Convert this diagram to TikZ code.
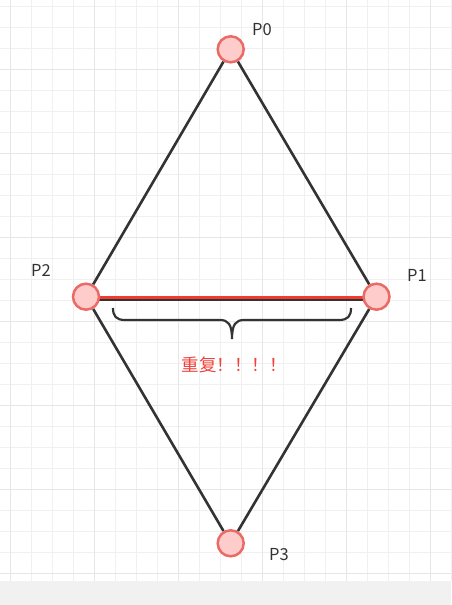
\documentclass[tikz,border=0pt]{standalone}
\usepackage{fontspec}
\setmainfont{Noto Sans CJK SC}
\definecolor{gridminor}{HTML}{F0F0F0}
\definecolor{gridmajor}{HTML}{E6E6E6}
\definecolor{band}{HTML}{F1F1F1}
\definecolor{edgedark}{HTML}{333333}
\definecolor{ptstroke}{HTML}{EA6B66}
\definecolor{ptfill}{HTML}{FFCCCC}
\definecolor{redline}{HTML}{F23B2E}
\definecolor{redtext}{HTML}{F0413A}
\pgfdeclarelayer{gridlayer}
\pgfdeclarelayer{background}
\pgfsetlayers{gridlayer,background,main}
\tikzset{
  pt/.style={circle,draw=ptstroke,fill=ptfill,line width=2.5pt,minimum size=26pt,inner sep=0pt},
  lbl/.style={text=edgedark,font=\fontsize{16.5pt}{18pt}\selectfont,inner sep=0pt},
  edge/.style={draw=edgedark,line width=2.6pt},
}
\begin{document}
\begin{tikzpicture}[x=1pt,y=-1pt]
\useasboundingbox (0,0) rectangle (451,605);
\begin{pgfonlayer}{gridlayer}
\foreach \k in {0,...,21} {\draw[gridminor,line width=0.9pt] (10+21*\k,0) -- (10+21*\k,581);}
\foreach \k in {0,...,27} {\draw[gridminor,line width=0.9pt] (0,6.3+21*\k) -- (451,6.3+21*\k);}
\foreach \k in {0,...,5} {\draw[gridmajor,line width=1pt] (10+84*\k,0) -- (10+84*\k,581);}
\foreach \k in {0,...,6} {\draw[gridmajor,line width=1pt] (0,69.3+84*\k) -- (451,69.3+84*\k);}
\fill[band] (0,581) rectangle (451,605);
\end{pgfonlayer}
% points
\node[pt] (p0) at (230.7,49.3) {};
\node[pt] (p1) at (376.5,296.7) {};
\node[pt] (p2) at (86,296.7) {};
\node[pt] (p3) at (230.7,543.3) {};
% labels
\node[lbl] (l0) at (262,30) {P0};
\node[lbl] (l1) at (417,275) {P1};
\node[lbl] (l2) at (41,270.7) {P2};
\node[lbl] (l3) at (279,554.3) {P3};
\node[text=redtext,font=\fontsize{17.5pt}{19pt}\selectfont,inner sep=0pt] (rep) at (234,365) {重复！！！！};
% edges
\begin{pgfonlayer}{background}
\path[edge] (p0) -- (p1);
\path[edge] (p0) -- (p2);
\path[edge] (p2) -- (p3);
\path[edge] (p1) -- (p3);
\path[edge] ([yshift=-2.6pt]p2.center) -- ([yshift=-2.6pt]p1.center);
\draw[redline,line width=2.6pt] ([yshift=-1pt]p2.center) -- ([yshift=-1pt]p1.center);
\end{pgfonlayer}
% brace
\draw[edgedark,line width=2.2pt]
  (113,308) .. controls (113,316) and (116,320) .. (125,320) -- (220,320)
  .. controls (228,320) and (232,324) .. (232,339)
  .. controls (232,324) and (236,320) .. (244,320) -- (339,320)
  .. controls (348,320) and (351,316) .. (351,308);
\end{tikzpicture}
\end{document}
